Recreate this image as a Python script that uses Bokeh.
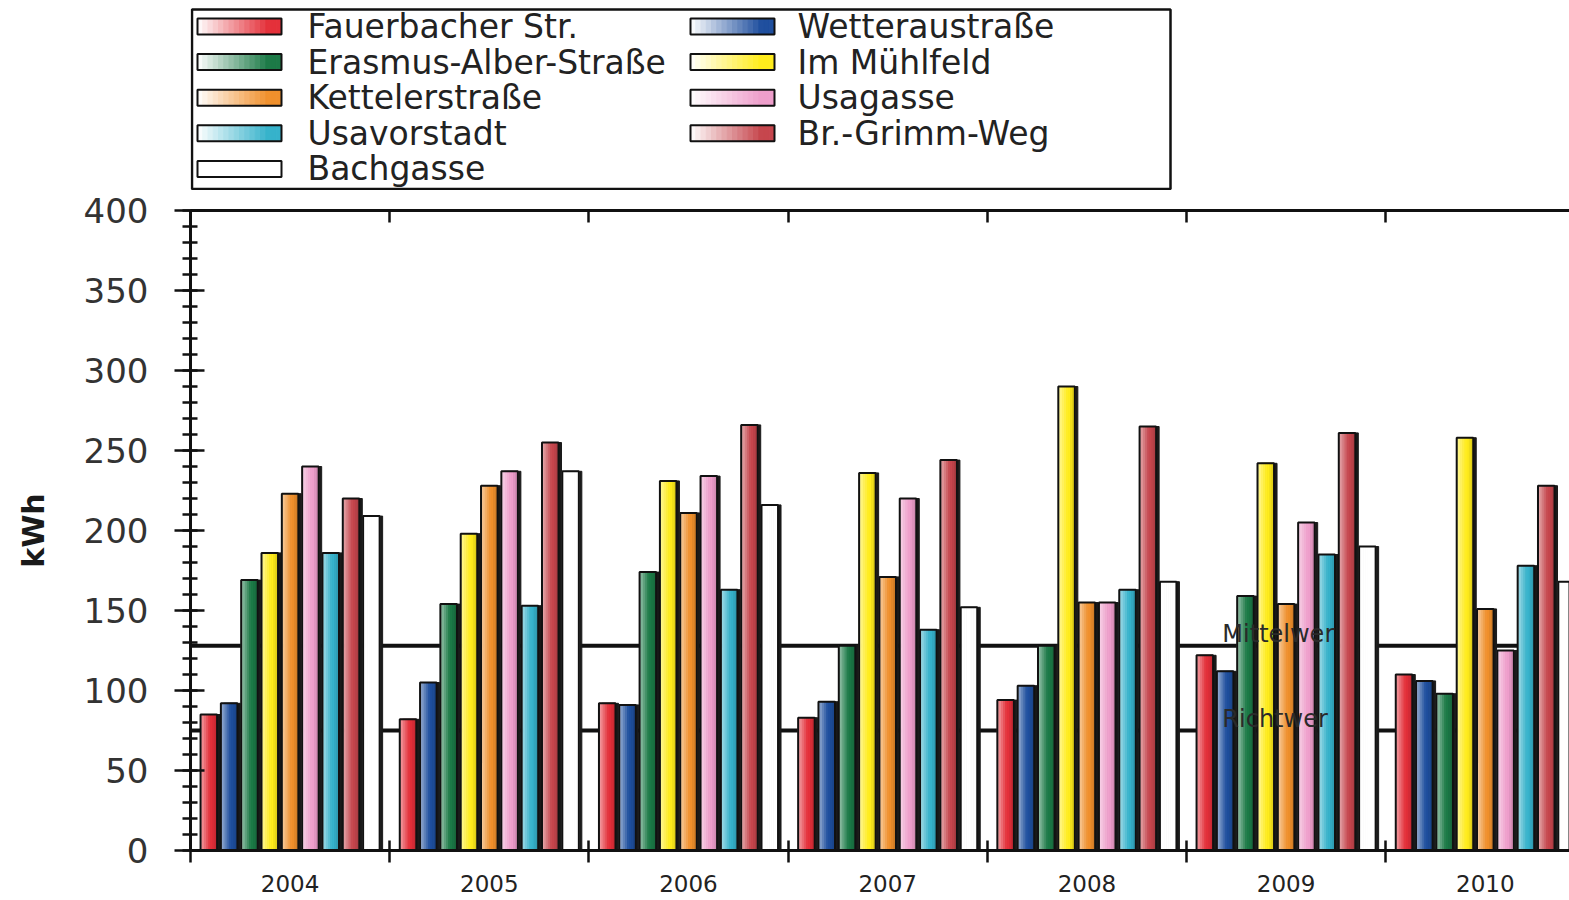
import numpy as np
from bokeh.plotting import figure
from bokeh.layouts import column
from bokeh.models import (Range1d, FixedTicker, SingleIntervalTicker, LinearAxis,
                          Span, ColumnDataSource)
from bokeh.core.properties import value
from bokeh.embed import file_html
from bokeh.resources import INLINE

# ---------------- data ----------------
years = ["2004", "2005", "2006", "2007", "2008", "2009", "2010"]
series = ["Fauerbacher Str.", "Wetteraustraße", "Erasmus-Alber-Straße", "Im Mühlfeld",
          "Kettelerstraße", "Usagasse", "Usavorstadt", "Br.-Grimm-Weg", "Bachgasse"]

fauerbacher = [85, 82, 92, 83, 94, 122, 110]
wetterau = [92, 105, 91, 93, 103, 112, 106]
erasmus_alber = [169, 154, 174, 128, 128, 159, 98]
im_muehlfeld = [186, 198, 231, 236, 290, 242, 258]
ketteler = [223, 228, 211, 171, 155, 154, 151]
usagasse = [240, 237, 234, 220, 155, 205, 125]
usavorstadt = [186, 153, 163, 138, 163, 185, 178]
grimm_weg = [220, 255, 266, 244, 265, 261, 228]
bachgasse = [209, 237, 216, 152, 168, 190, 168]

mittelwert = 128
richtwert = 75
ref_labels = ["Mittelwer", "Richtwer"]

values_all = [fauerbacher, wetterau, erasmus_alber, im_muehlfeld, ketteler,
              usagasse, usavorstadt, grimm_weg, bachgasse]

# ---------------- style ----------------
base_colors = ["#e4303a", "#1f4f9e", "#1c7a47", "#ffec1c", "#f0902c",
               "#ee9ecb", "#36b2cb", "#c6464d", "#ffffff"]
FONT = "DejaVu Sans"


def hex2rgb(h):
    h = h.lstrip("#")
    return np.array([int(h[i:i + 2], 16) for i in (0, 2, 4)], dtype=float)


def rgb2hex(c):
    c = np.clip(np.round(c), 0, 255).astype(int)
    return "#%02x%02x%02x" % tuple(c)


def bar_shade(base, t):
    b = hex2rgb(base)
    w = np.array([255.0, 255.0, 255.0])
    a = 0.40 + 0.60 * min(1.0, t / 0.6)
    c = w * (1 - a) + b * a
    if base.lower() != "#ffffff" and t > 0.7:
        c = c * (1 - 0.15 * (t - 0.7) / 0.3)
    return rgb2hex(c)


def swatch_shade(base, t):
    b = hex2rgb(base)
    w = np.array([255.0, 255.0, 255.0])
    a = min(1.0, t / 0.85)
    return rgb2hex(w * (1 - a) + b * a)


# ---------------- layout sizes ----------------
FIG_W = 1569
BORDER_L = 190
GROUP_PX = 199.2
LH = 190            # legend strip height
MAIN_H = 900 - LH
TOP_B = 210 - LH    # frame top lands at page y = 210
BOT_B = 50

# ---------------- main figure ----------------
n_groups = len(years)
n_series = len(series)
pitch = 0.102
bw = 0.083
shadow_dx = 0.015
N_STRIPS = 8

x_end = -0.5 + (FIG_W - BORDER_L) / GROUP_PX

p = figure(width=FIG_W, height=MAIN_H, output_backend="svg", toolbar_location=None,
           x_range=Range1d(-0.5, x_end), y_range=Range1d(0, 400),
           min_border_left=BORDER_L, min_border_right=0, min_border_top=TOP_B,
           min_border_bottom=BOT_B)
p.outline_line_color = None
p.xgrid.visible = False
p.ygrid.visible = False
p.background_fill_color = "white"

# reference lines (behind bars)
for lvl in (mittelwert, richtwert):
    p.add_layout(Span(location=lvl, dimension="width", line_color="#111111",
                      line_width=4, level="underlay"))

# build bar tables from the data arrays
sh = dict(x=[], top=[])
st = dict(x=[], top=[], color=[])
ol = dict(x=[], top=[])
for k, (vals, col) in enumerate(zip(values_all, base_colors)):
    for i, v in enumerate(vals):
        xc = i + (k - (n_series - 1) / 2) * pitch
        sh["x"].append(xc + shadow_dx)
        sh["top"].append(v)
        ol["x"].append(xc)
        ol["top"].append(v)
        for j in range(N_STRIPS):
            t = (j + 0.5) / N_STRIPS
            st["x"].append(xc - bw / 2 + (j + 0.5) * bw / N_STRIPS)
            st["top"].append(v)
            st["color"].append(bar_shade(col, t))

p.vbar(x="x", top="top", bottom=0, width=bw, source=ColumnDataSource(sh),
       fill_color="#1a1a1a", line_color="#1a1a1a", line_width=1)
p.vbar(x="x", top="top", bottom=0, width=bw / N_STRIPS, source=ColumnDataSource(st),
       fill_color="color", line_color="color", line_width=1)
p.vbar(x="x", top="top", bottom=0, width=bw, source=ColumnDataSource(ol),
       fill_color=None, line_color="#111111", line_width=2)

# reference line labels
p.text(x=[4.68, 4.68], y=[mittelwert, richtwert], text=ref_labels,
       text_font=value(FONT), text_font_size="24px", text_color="#2a2a2a",
       text_baseline="bottom", text_align="left", y_offset=[2, 2])

# axes
centers = list(range(n_groups))
boundaries = [c - 0.5 for c in range(n_groups + 1)]

xa = p.xaxis[0]
xa.ticker = FixedTicker(ticks=centers, minor_ticks=boundaries)
xa.major_label_overrides = {c: y for c, y in zip(centers, years)}
xa.major_tick_line_color = None
xa.major_tick_in = 0
xa.major_tick_out = 0
xa.minor_tick_in = 10
xa.minor_tick_out = 12
xa.minor_tick_line_width = 2.5
xa.minor_tick_line_color = "#111111"
xa.axis_line_width = 3
xa.axis_line_color = "#111111"
xa.major_label_text_font = FONT
xa.major_label_text_font_size = "23px"
xa.major_label_text_color = "#222222"
xa.major_label_standoff = 12

ya = p.yaxis[0]
ya.ticker = SingleIntervalTicker(interval=50, num_minor_ticks=5)
ya.axis_line_width = 3
ya.axis_line_color = "#111111"
ya.major_tick_in = 14
ya.major_tick_out = 16
ya.minor_tick_in = 7
ya.minor_tick_out = 8
ya.major_tick_line_width = 2.5
ya.minor_tick_line_width = 2.5
ya.major_tick_line_color = "#111111"
ya.minor_tick_line_color = "#111111"
ya.major_label_text_font = FONT
ya.major_label_text_font_size = "34px"
ya.major_label_text_color = "#333333"
ya.major_label_standoff = 26
ya.axis_label = "kWh"
ya.axis_label_text_font = FONT
ya.axis_label_text_font_style = "bold"
ya.axis_label_text_font_size = "30px"
ya.axis_label_text_color = "#1a1a1a"
ya.axis_label_standoff = 30

top_axis = LinearAxis(ticker=FixedTicker(ticks=[], minor_ticks=boundaries))
top_axis.axis_line_width = 3
top_axis.axis_line_color = "#111111"
top_axis.minor_tick_in = 12
top_axis.minor_tick_out = 0
top_axis.minor_tick_line_width = 2.5
top_axis.minor_tick_line_color = "#111111"
top_axis.major_tick_in = 0
top_axis.major_tick_out = 0
top_axis.major_label_standoff = 0
p.add_layout(top_axis, "above")

# ---------------- legend figure ----------------
# its frame lines up with the main frame, so page pixel coordinates are used
lg = figure(width=FIG_W, height=LH, output_backend="svg", toolbar_location=None,
            x_range=Range1d(BORDER_L, FIG_W), y_range=Range1d(LH, 0),
            x_axis_type=None, y_axis_type=None,
            min_border_left=BORDER_L, min_border_right=0,
            min_border_top=0, min_border_bottom=0)
lg.outline_line_color = None
lg.xgrid.visible = False
lg.ygrid.visible = False

# frame of the legend
lg.quad(left=[191.5], right=[1170], top=[9], bottom=[188.5], fill_color=None,
        line_color="#111111", line_width=2.5)

sw_left = [197, 690]
sw_w = 84
sw_h = 16
txt_x = [307, 797]
row0 = 26
row_dy = 35.6
N_SW = 16

q = dict(left=[], right=[], top=[], bottom=[], color=[])
so = dict(left=[], right=[], top=[], bottom=[])
tx = dict(x=[], y=[], text=[])
for idx, (name, col) in enumerate(zip(series, base_colors)):
    c = idx % 2
    r = idx // 2
    yc = row0 + r * row_dy
    x0 = sw_left[c]
    for j in range(N_SW):
        t = (j + 0.5) / N_SW
        q["left"].append(x0 + j * sw_w / N_SW)
        q["right"].append(x0 + (j + 1) * sw_w / N_SW)
        q["top"].append(yc - sw_h / 2)
        q["bottom"].append(yc + sw_h / 2)
        q["color"].append(swatch_shade(col, t))
    so["left"].append(x0)
    so["right"].append(x0 + sw_w)
    so["top"].append(yc - sw_h / 2)
    so["bottom"].append(yc + sw_h / 2)
    tx["x"].append(txt_x[c])
    tx["y"].append(yc)
    tx["text"].append(name)

lg.quad(left="left", right="right", top="top", bottom="bottom",
        source=ColumnDataSource(q), fill_color="color", line_color="color", line_width=1)
lg.quad(left="left", right="right", top="top", bottom="bottom",
        source=ColumnDataSource(so), fill_color=None, line_color="#111111", line_width=2)
lg.text(x="x", y="y", text="text", source=ColumnDataSource(tx),
        text_font=value(FONT), text_font_size="33px", text_color="#222222",
        text_baseline="middle", text_align="left")

layout = column(lg, p, spacing=0)
open("out.html", "w").write(file_html(layout, INLINE))
